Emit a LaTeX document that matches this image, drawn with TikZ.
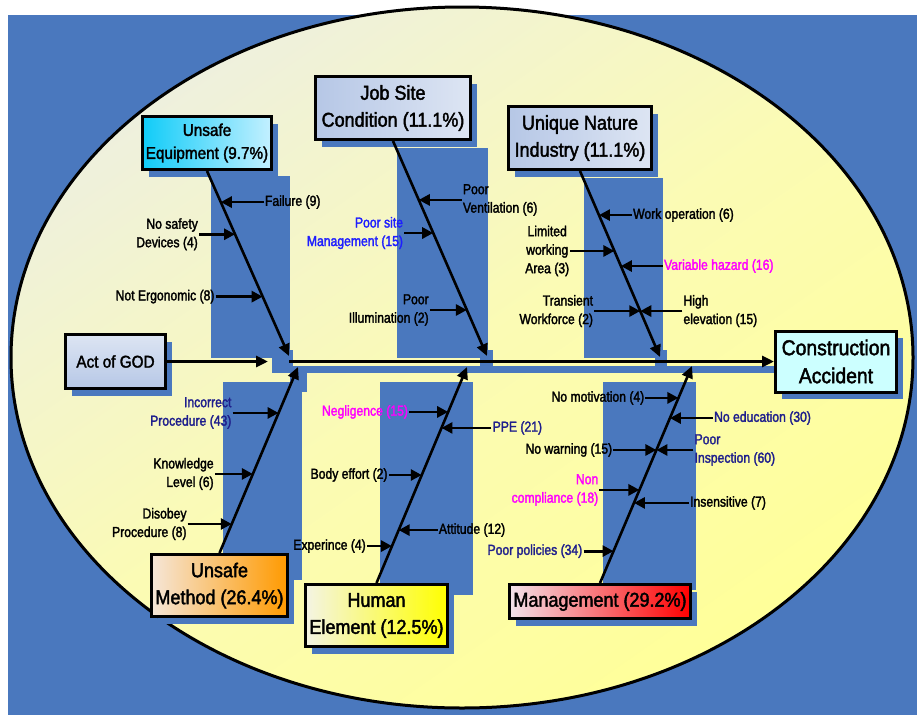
\documentclass[tikz,border=0pt]{standalone}
\usepackage{fontspec}
\setmainfont{Liberation Sans}[FakeStretch=0.9, FakeBold=2]
\newfontfamily\lblfont{Liberation Sans}[FakeStretch=0.84, FakeBold=2]
\usetikzlibrary{arrows.meta,calc,shadows}
\definecolor{bgblue}{HTML}{4A78BE}
\definecolor{ellL}{HTML}{EEF0DE}
\definecolor{ellM}{HTML}{FBFBB4}
\definecolor{ellR}{HTML}{FFFF99}
\definecolor{navy}{HTML}{1F1F8C}
\definecolor{siteblue}{HTML}{1E1EFF}
\definecolor{hazmag}{HTML}{FF00FF}
\definecolor{cy01}{HTML}{10CCF8}
\definecolor{cy02}{HTML}{C4F0FF}
\definecolor{gr01}{HTML}{B6C7E6}
\definecolor{gr02}{HTML}{DDE5F3}
\definecolor{or01}{HTML}{F5E6D8}
\definecolor{or02}{HTML}{FF9A00}
\definecolor{ye01}{HTML}{F4F4E4}
\definecolor{ye02}{HTML}{FFFF00}
\definecolor{re01}{HTML}{F2E2EA}
\definecolor{re02}{HTML}{FF0000}
\definecolor{acc01}{HTML}{CCFFFF}
\tikzset{
  cause/.style={rectangle, draw, line width=3pt, align=center, inner sep=2pt,
    font=\fontsize{20}{27}\selectfont,
    drop shadow={shadow xshift=6pt, shadow yshift=-7pt, fill=bgblue, opacity=1}},
  lbl/.style={inner sep=1pt, font=\lblfont\fontsize{14.5}{18.5}\selectfont},
  lblL/.style={lbl, anchor=east, align=right},
  lblR/.style={lbl, anchor=west, align=left},
  bone/.style={line width=2.6pt, -{Triangle[length=12pt,width=11pt]}},
  sub/.style={line width=2.8pt, -{Triangle[length=11pt,width=11pt]}},
  band/.style={fill=bgblue, draw=none},
}
\begin{document}
\begin{tikzpicture}[x=1pt,y=-1pt]
  \useasboundingbox (0,0) rectangle (917,715);
  % background and oval
  \fill[bgblue] (8,15) rectangle (917,715);
  \draw[line width=3pt, top color=ellL, bottom color=ellR, middle color=ellM, shading angle=35]
    (462,357.5) ellipse [x radius=451, y radius=350.5];
  % blue bands behind the bones
  \fill[band] (211,176) rectangle (290,358);
  \fill[band] (397,148) rectangle (488,358);
  \fill[band] (584,178) rectangle (663,358);
  \fill[band] (272,350) rectangle (293,372);
  \fill[band] (480,350) rectangle (493,372);
  \fill[band] (655,350) rectangle (667,372);
  \fill[band] (272,366) rectangle (780,373);
  \fill[band] (290,366) rectangle (307,392);
  \fill[band] (223,382) rectangle (302,580);
  \fill[band] (380,382) rectangle (473,595);
  \fill[band] (603,382) rectangle (696,590);

  \node[cause, left color=cy01, right color=cy02, minimum width=129, minimum height=53, font=\fontsize{17}{23}\selectfont] (equip) at (207,143) {Unsafe\\Equipment (9.7\%)};
  \node[cause, left color=gr01, right color=gr02, minimum width=155, minimum height=63] (site) at (393,108) {Job Site\\Condition (11.1\%)};
  \node[cause, left color=gr01, right color=gr02, minimum width=143, minimum height=63] (unique) at (580,138) {Unique Nature\\Industry (11.1\%)};
  \node[cause, top color=gr02, bottom color=gr01, minimum width=100, minimum height=54, font=\fontsize{17}{22}\selectfont] (god) at (115.5,361.5) {Act of GOD};
  \node[cause, fill=acc01, minimum width=121, minimum height=61, font=\fontsize{21.5}{28}\selectfont] (acc) at (836,361.5) {Construction\\Accident};
  \node[cause, left color=or01, right color=or02, minimum width=136, minimum height=62] (method) at (219.5,585.5) {Unsafe\\Method (26.4\%)};
  \node[cause, left color=ye01, right color=ye02, minimum width=142, minimum height=62] (human) at (376.5,615.5) {Human\\Element (12.5\%)};
  \node[cause, left color=re01, right color=re02, minimum width=181, minimum height=34] (mgmt) at (600,601.5) {Management (29.2\%)};

  % spine
  \coordinate (godT) at (268,361.5);
  \coordinate (spS) at (289,361.5);
  \draw[bone, line width=3.2pt] (god) -- (godT);
  \draw[bone, line width=3.2pt] (spS) -- (acc);

  % bones
  \coordinate (eqT) at (289,356);
  \coordinate (siteT) at (487,356);
  \coordinate (uniT) at (660,357);
  \coordinate (methT) at (298,367);
  \coordinate (humT) at (467,367);
  \coordinate (mgmT) at (692,366);
  \draw[bone] (equip.south) -- (eqT);
  \draw[bone] (site.south) -- (siteT);
  \draw[bone] (unique.south) -- (uniT);
  \draw[bone] (method.north) -- (methT);
  \draw[bone] (human.north) -- (humT);
  \draw[bone] (mgmt.north) -- (mgmT);

  % Unsafe Equipment
  \coordinate (eq1) at ($(equip.south)!0.168!(eqT)$);
  \coordinate (eq2) at ($(equip.south)!0.342!(eqT)$);
  \coordinate (eq3) at ($(equip.south)!0.679!(eqT)$);
  \node[lblR] (fail) at ([xshift=43]eq1) {Failure (9)};
  \node[lblL] (nosafe) at ([xshift=-36]eq2) {No safety\\Devices (4)};
  \node[lblL] (ergo) at ([xshift=-47]eq3) {Not Ergonomic (8)};
  \draw[sub] (fail) -- (eq1);
  \draw[sub] (nosafe) -- (eq2);
  \draw[sub] (ergo) -- (eq3);

  % Job Site Condition
  \coordinate (st1) at ($(site.south)!0.274!(siteT)$);
  \coordinate (st2) at ($(site.south)!0.428!(siteT)$);
  \coordinate (st3) at ($(site.south)!0.786!(siteT)$);
  \node[lblR] (vent) at ([xshift=43]st1) {Poor\\Ventilation (6)};
  \node[lblL, text=siteblue] (sitemgmt) at ([xshift=-29]st2) {Poor site\\Management (15)};
  \node[lblL] (illum) at ([xshift=-37]st3) {Poor\\Illumination (2)};
  \draw[sub] (vent) -- (st1);
  \draw[sub] (sitemgmt) -- (st2);
  \draw[sub] (illum) -- (st3);

  % Unique Nature Industry
  \coordinate (un1) at ($(unique.south)!0.237!(uniT)$);
  \coordinate (un2) at ($(unique.south)!0.430!(uniT)$);
  \coordinate (un3) at ($(unique.south)!0.511!(uniT)$);
  \coordinate (un4) at ($(unique.south)!0.753!(uniT)$);
  \node[lblR] (workop) at ([xshift=33]un1) {Work operation (6)};
  \node[lblL, align=center] (limited) at ([xshift=-44]un2) {Limited\\working\\Area (3)};
  \node[lblR, text=hazmag] (varhaz) at ([xshift=42]un3) {Variable hazard (16)};
  \node[lblL] (transient) at ([xshift=-46]un4) {Transient\\Workforce (2)};
  \node[lblR] (highel) at ([xshift=42]un4) {High\\elevation (15)};
  \draw[sub] (workop) -- (un1);
  \draw[sub] (limited) -- (un2);
  \draw[sub] (varhaz) -- (un3);
  \draw[sub] (transient) -- (un4);
  \draw[sub] (highel) -- (un4);

  % Unsafe Method
  \coordinate (me1) at ($(method.north)!0.753!(methT)$);
  \coordinate (me2) at ($(method.north)!0.425!(methT)$);
  \coordinate (me3) at ($(method.north)!0.156!(methT)$);
  \node[lblL, text=navy] (incorrect) at ([xshift=-46]me1) {Incorrect\\Procedure (43)};
  \node[lblL] (knowledge) at ([xshift=-38]me2) {Knowledge\\Level (6)};
  \node[lblL] (disobey) at ([xshift=-44]me3) {Disobey\\Procedure (8)};
  \draw[sub] (incorrect) -- (me1);
  \draw[sub] (knowledge) -- (me2);
  \draw[sub] (disobey) -- (me3);

  % Human Element
  \coordinate (hu1) at ($(human.north)!0.792!(humT)$);
  \coordinate (hu2) at ($(human.north)!0.718!(humT)$);
  \coordinate (hu3) at ($(human.north)!0.5!(humT)$);
  \coordinate (hu4) at ($(human.north)!0.245!(humT)$);
  \coordinate (hu5) at ($(human.north)!0.171!(humT)$);
  \node[lblL, text=hazmag] (neglig) at ([xshift=-39]hu1) {Negligence (15)};
  \node[lblR, text=navy] (ppe) at ([xshift=50]hu2) {PPE (21)};
  \node[lblL] (body) at ([xshift=-33]hu3) {Body effort (2)};
  \node[lblR] (attitude) at ([xshift=39]hu4) {Attitude (12)};
  \node[lblL] (exper) at ([xshift=-25]hu5) {Experince (4)};
  \draw[sub] (neglig) -- (hu1);
  \draw[sub] (ppe) -- (hu2);
  \draw[sub] (body) -- (hu3);
  \draw[sub] (attitude) -- (hu4);
  \draw[sub] (exper) -- (hu5);

  % Management
  \coordinate (mg1) at ($(mgmt.north)!0.853!(mgmT)$);
  \coordinate (mg2) at ($(mgmt.north)!0.760!(mgmT)$);
  \coordinate (mg3) at ($(mgmt.north)!0.613!(mgmT)$);
  \coordinate (mg4) at ($(mgmt.north)!0.429!(mgmT)$);
  \coordinate (mg5) at ($(mgmt.north)!0.369!(mgmT)$);
  \coordinate (mg6) at ($(mgmt.north)!0.147!(mgmT)$);
  \node[lblL] (nomot) at ([xshift=-33]mg1) {No motivation (4)};
  \node[lblR, text=navy] (noedu) at ([xshift=43]mg2) {No education (30)};
  \node[lblL] (nowarn) at ([xshift=-43]mg3) {No warning (15)};
  \node[lblR, text=navy] (inspect) at ([xshift=37]mg3) {Poor\\Inspection (60)};
  \node[lblL, text=hazmag] (noncomp) at ([xshift=-40]mg4) {Non\\compliance (18)};
  \node[lblR] (insens) at ([xshift=55]mg5) {Insensitive (7)};
  \node[lblL, text=navy] (policies) at ([xshift=-30]mg6) {Poor policies (34)};
  \draw[sub] (nomot) -- (mg1);
  \draw[sub] (noedu) -- (mg2);
  \draw[sub] (nowarn) -- (mg3);
  \draw[sub] (inspect) -- (mg3);
  \draw[sub] (noncomp) -- (mg4);
  \draw[sub] (insens) -- (mg5);
  \draw[sub] (policies) -- (mg6);
\end{tikzpicture}
\end{document}
